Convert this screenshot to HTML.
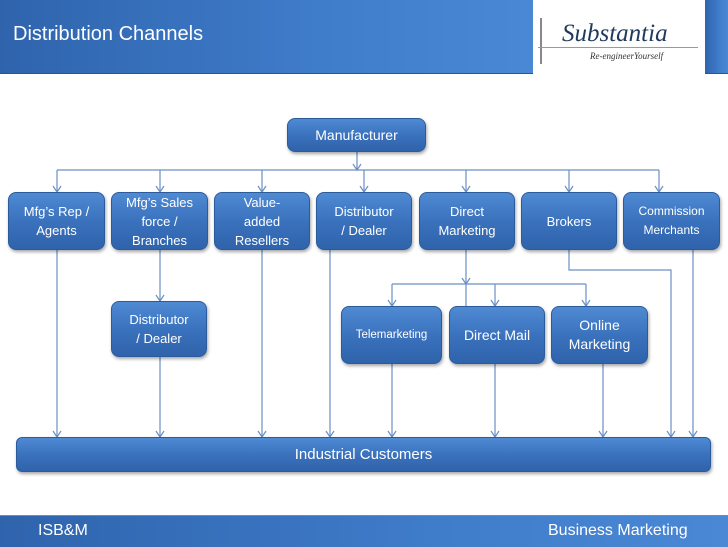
<!DOCTYPE html>
<html><head><meta charset="utf-8"><style>
body{margin:0;width:728px;height:546px;background:#fff;position:relative;overflow:hidden;font-family:"Liberation Sans",sans-serif}
.b{position:absolute;box-sizing:border-box;border-radius:8px;background:linear-gradient(#4f8ad3,#3b72bd 50%,#2f63ab);border:1px solid #2c5b9c;box-shadow:1px 2px 3px rgba(0,0,0,.35);color:#fff;display:flex;align-items:center;justify-content:center;text-align:center;font-size:13px;line-height:19px}
.hd{position:absolute;background:linear-gradient(90deg,#2f64ad,#3f7cca 60%,#4a88d6);border-bottom:1px solid #2a5590}
svg{position:absolute;left:0;top:0}
</style></head><body>
<div class="hd" style="left:0;top:0;width:533px;height:73px;"></div>
<div style="position:absolute;left:13px;top:23px;color:#fff;font-size:20px;">Distribution Channels</div>
<div class="hd" style="left:705px;top:0;width:23px;height:73px;"></div>
<div style="position:absolute;left:540px;top:18px;width:2px;height:46px;background:#888"></div>
<div style="position:absolute;left:538px;top:47px;width:160px;height:1px;background:#999"></div>
<div style="position:absolute;left:562px;top:20px;font-family:'Liberation Serif',serif;font-size:25px;color:#1f3a5c;font-style:italic">Substantia</div>
<div style="position:absolute;left:590px;top:51px;font-family:'Liberation Serif',serif;font-size:9px;color:#333;font-style:italic">Re-engineerYourself</div>

<svg width="728" height="546">
<g stroke="#6b8fc4" stroke-width="1.2" fill="none">
<path d="M357 152V170M57 170H659M57 170V192M160 170V192M262 170V192M364 170V192M466 170V192M569 170V192M659 170V192"/>
<path d="M57 250V437M160 250V301M160 357V437M262 250V437M330 250V437M466 250V306M392 284H586M392 284V306M495 284V306M586 284V306M569 250V270H671V437M693 250V437M392 364V437M495 362V437M603 364V437"/>
</g>
<g stroke="#6b8fc4" stroke-width="1.2" fill="none">
<path d="M353 164l4 6 4-6M53 186l4 6 4-6M156 186l4 6 4-6M258 186l4 6 4-6M360 186l4 6 4-6M462 186l4 6 4-6M565 186l4 6 4-6M655 186l4 6 4-6"/>
<path d="M156 295l4 6 4-6M462 278l4 6 4-6M388 300l4 6 4-6M491 300l4 6 4-6M582 300l4 6 4-6"/>
<path d="M53 431l4 6 4-6M156 431l4 6 4-6M258 431l4 6 4-6M326 431l4 6 4-6M388 431l4 6 4-6M491 431l4 6 4-6M599 431l4 6 4-6M667 431l4 6 4-6M689 431l4 6 4-6"/>
</g></svg>

<div class="b" style="left:287px;top:118px;width:139px;height:34px;font-size:14px">Manufacturer</div>
<div class="b" style="left:8px;top:192px;width:97px;height:58px">Mfg’s Rep /<br>Agents</div>
<div class="b" style="left:111px;top:192px;width:97px;height:58px">Mfg’s Sales<br>force /<br>Branches</div>
<div class="b" style="left:214px;top:192px;width:96px;height:58px">Value-<br>added<br>Resellers</div>
<div class="b" style="left:316px;top:192px;width:96px;height:58px">Distributor<br>/ Dealer</div>
<div class="b" style="left:419px;top:192px;width:96px;height:58px">Direct<br>Marketing</div>
<div class="b" style="left:521px;top:192px;width:96px;height:58px">Brokers</div>
<div class="b" style="left:623px;top:192px;width:97px;height:58px;font-size:12px">Commission<br>Merchants</div>
<div class="b" style="left:111px;top:301px;width:96px;height:56px">Distributor<br>/ Dealer</div>
<div class="b" style="left:341px;top:306px;width:101px;height:58px;font-size:11.5px">Telemarketing</div>
<div class="b" style="left:449px;top:306px;width:96px;height:58px;font-size:14px">Direct Mail</div>
<div class="b" style="left:551px;top:306px;width:97px;height:58px;font-size:14px">Online<br>Marketing</div>
<div class="b" style="left:16px;top:437px;width:695px;height:35px;font-size:15px;border-radius:6px">Industrial Customers</div>

<div class="hd" style="left:0;top:515px;width:728px;height:31px;border-top:1px solid #5a92d6;border-bottom:none"></div>
<div style="position:absolute;left:38px;top:522px;color:#fff;font-size:16px">ISB&amp;M</div>
<div style="position:absolute;left:548px;top:522px;color:#fff;font-size:16px">Business Marketing</div>
</body></html>
